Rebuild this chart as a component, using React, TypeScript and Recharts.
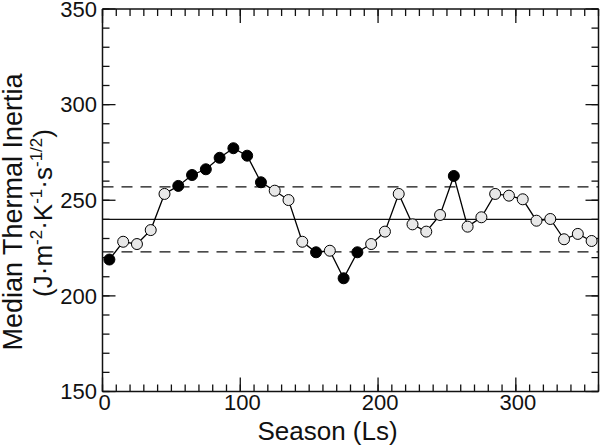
import React from 'react';
import { ComposedChart, Line, XAxis, YAxis, ReferenceLine } from 'recharts';

const seasonLs = [5, 15, 25, 35, 45, 55, 65, 75, 85, 95, 105, 115, 125, 135, 145, 155, 165, 175, 185, 195, 205, 215, 225, 235, 245, 255, 265, 275, 285, 295, 305, 315, 325, 335, 345, 355];
const medianTI = [219, 228.3, 227.1, 234.4, 253.3, 257.5, 263.2, 266.2, 272.2, 277.2, 273.3, 259.4, 255, 250.1, 228.3, 222.8, 223.6, 209.2, 222.8, 227.1, 233.6, 253.3, 237.4, 233.6, 242.3, 262.7, 236.2, 241.1, 253.3, 252.4, 250.5, 239.3, 240.2, 229.6, 232.4, 228.7];
const meanTI = 240;
const upperTI = 257;
const lowerTI = 223;

const xMajorTicks = [0, 100, 200, 300];
const xAllTicks = [0, 10, 20, 30, 40, 50, 60, 70, 80, 90, 100, 110, 120, 130, 140, 150, 160, 170, 180, 190, 200, 210, 220, 230, 240, 250, 260, 270, 280, 290, 300, 310, 320, 330, 340, 350, 360];
const yMajorTicks = [150, 200, 250, 300, 350];
const yAllTicks = [150, 160, 170, 180, 190, 200, 210, 220, 230, 240, 250, 260, 270, 280, 290, 300, 310, 320, 330, 340, 350];

const data = seasonLs.map((ls, i) => ({
  ls,
  ti: medianTI[i],
  filled: medianTI[i] > upperTI || medianTI[i] < lowerTI,
}));

const FONT = '"Liberation Sans", Arial, Helvetica, sans-serif';
const INK = '#111';

const isMajor = (list: number[], v: any) => list.some((m) => Math.abs(m - Number(v)) < 1e-6);

const BottomTick = (props: any) => {
  const x = Number(props.x);
  const y = Number(props.y);
  const v = props.payload?.value;
  if (!isMajor(xMajorTicks, v)) return <g />;
  return (
    <g>
      <path d={`M${x},${y}L${x},${y - 14}`} stroke={INK} strokeWidth={1.3} fill="none" />
      <text x={x + 2} y={y + 18.5} textAnchor="middle" fontSize={22} fontFamily={FONT} fill={INK}>
        {v}
      </text>
    </g>
  );
};

const TopTick = (props: any) => {
  const x = Number(props.x);
  const y = Number(props.y);
  if (!isMajor(xMajorTicks, props.payload?.value)) return <g />;
  return <path d={`M${x},${y}L${x},${y + 14}`} stroke={INK} strokeWidth={1.3} fill="none" />;
};

const LeftTick = (props: any) => {
  const x = Number(props.x);
  const y = Number(props.y);
  const v = props.payload?.value;
  if (!isMajor(yMajorTicks, v)) return <g />;
  return (
    <g>
      <path d={`M${x},${y}L${x + 13},${y}`} stroke={INK} strokeWidth={1.3} fill="none" />
      <text x={x - 5.5} y={y + 7.8} textAnchor="end" fontSize={22} fontFamily={FONT} fill={INK}>
        {v}
      </text>
    </g>
  );
};

const RightTick = (props: any) => {
  const x = Number(props.x);
  const y = Number(props.y);
  if (!isMajor(yMajorTicks, props.payload?.value)) return <g />;
  return <path d={`M${x},${y}L${x - 13},${y}`} stroke={INK} strokeWidth={1.3} fill="none" />;
};

const XTitle = () => (
  <text x={327.5} y={440} textAnchor="middle" fontSize={26} fontFamily={FONT} fill={INK}>
    Season (Ls)
  </text>
);

const YTitle = () => (
  <g fontFamily={FONT} fill={INK}>
    <text transform="translate(22,212) rotate(-90)" textAnchor="middle" fontSize={27}>
      Median Thermal Inertia
    </text>
    <text transform="translate(52,213) rotate(-90)" textAnchor="middle" fontSize={26}>
      <tspan>(J·m</tspan>
      <tspan fontSize={17} dy={-10}>-2</tspan>
      <tspan dy={10}>·K</tspan>
      <tspan fontSize={17} dy={-10}>-1</tspan>
      <tspan dy={10}>·s</tspan>
      <tspan fontSize={17} dy={-10}>-1/2</tspan>
      <tspan dy={10}>)</tspan>
    </text>
  </g>
);

const Dot = (p: any) => (
  <circle
    key={`dot-${p.index}`}
    cx={p.cx}
    cy={p.cy}
    r={5.5}
    fill={p.payload.filled ? '#000' : '#e8e8e8'}
    stroke="#000"
    strokeWidth={1}
  />
);

const minorTick = { stroke: INK, strokeWidth: 1.3 };
const frame = { stroke: INK, strokeWidth: 1.5 };

export default function App() {
  return (
    <div style={{ position: 'absolute', left: 0, top: 0, background: '#fff' }}>
      <ComposedChart width={600} height={448} data={data} margin={{ top: 0, right: 0, left: 0, bottom: 0 }}>
        <XAxis
          xAxisId="b"
          dataKey="ls"
          type="number"
          domain={[0, 360]}
          ticks={xAllTicks}
          interval={0}
          tickSize={-7}
          tickMargin={7}
          tickLine={minorTick}
          tick={BottomTick}
          height={56.5}
          axisLine={frame}
          label={{ content: XTitle }}
          allowDataOverflow
        />
        <XAxis
          xAxisId="t"
          orientation="top"
          dataKey="ls"
          type="number"
          domain={[0, 360]}
          ticks={xAllTicks}
          interval={0}
          tickSize={-7}
          tickMargin={7}
          tickLine={minorTick}
          tick={TopTick}
          height={9}
          axisLine={frame}
          allowDataOverflow
        />
        <YAxis
          yAxisId="l"
          type="number"
          domain={[150, 350]}
          ticks={yAllTicks}
          interval={0}
          tickSize={-7}
          tickMargin={7}
          tickLine={minorTick}
          tick={LeftTick}
          width={102.5}
          axisLine={frame}
          label={{ content: YTitle }}
          allowDataOverflow
        />
        <YAxis
          yAxisId="r"
          orientation="right"
          type="number"
          domain={[150, 350]}
          ticks={yAllTicks}
          interval={0}
          tickSize={-7}
          tickMargin={7}
          tickLine={minorTick}
          tick={RightTick}
          width={1.5}
          axisLine={frame}
          allowDataOverflow
        />
        <ReferenceLine xAxisId="b" yAxisId="l" y={meanTI} stroke={INK} strokeWidth={1.3} />
        <ReferenceLine xAxisId="b" yAxisId="l" y={upperTI} stroke={INK} strokeWidth={1.3} strokeDasharray="11 8" />
        <ReferenceLine xAxisId="b" yAxisId="l" y={lowerTI} stroke={INK} strokeWidth={1.3} strokeDasharray="11 8" />
        <Line xAxisId="t" yAxisId="r" dataKey="ti" stroke="none" dot={false} activeDot={false} isAnimationActive={false} />
        <Line
          xAxisId="b"
          yAxisId="l"
          dataKey="ti"
          type="linear"
          stroke="#000"
          strokeWidth={1.3}
          dot={Dot}
          activeDot={false}
          isAnimationActive={false}
        />
      </ComposedChart>
    </div>
  );
}
